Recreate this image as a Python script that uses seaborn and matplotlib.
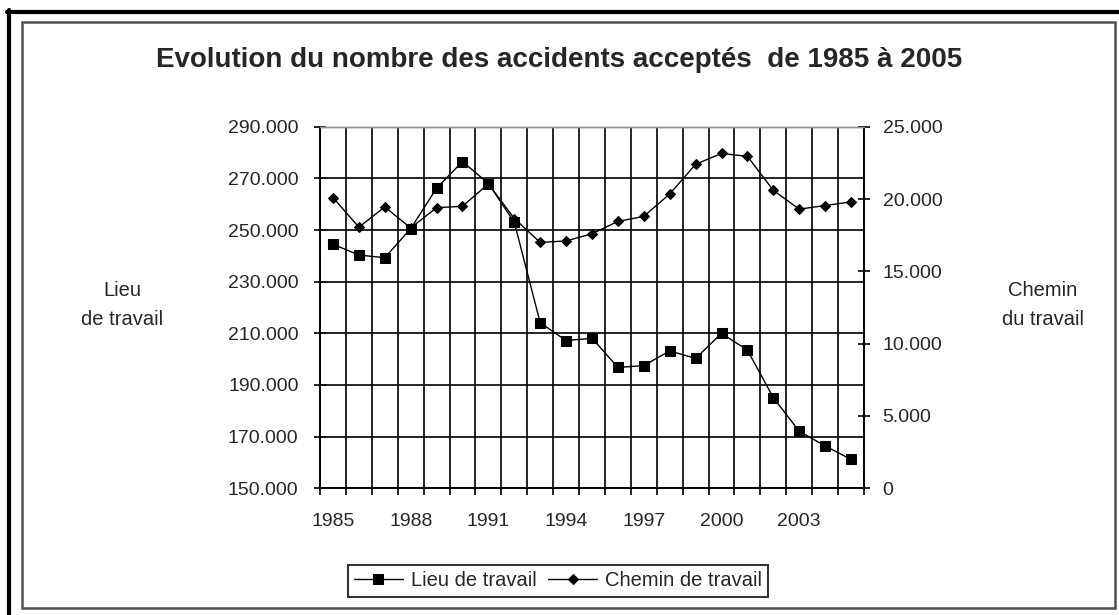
import pandas as pd
import seaborn as sns
import matplotlib.pyplot as plt
from matplotlib.lines import Line2D
from matplotlib.patches import Rectangle
from matplotlib.ticker import FixedLocator, FuncFormatter

# data
annees = list(range(1985, 2006))
lieu_travail = [244500, 240300, 239300, 250500, 266200, 276500, 268000, 253000, 214100, 207200,
                208100, 196800, 197500, 203200, 200300, 210000, 203500, 185100, 172100, 166400, 161200]
chemin_travail = [20100, 18050, 19450, 18000, 19400, 19500, 21050, 18650, 17000, 17100,
                  17600, 18450, 18800, 20350, 22400, 23150, 22950, 20600, 19300, 19550, 19800]
ticks_gauche = list(range(150000, 290001, 20000))
ticks_droite = list(range(0, 25001, 5000))
annees_label = list(range(1985, 2004, 3))

df = pd.DataFrame({'annee': annees, 'lieu': lieu_travail, 'chemin': chemin_travail})

sns.set_style('white')
plt.rcParams['font.family'] = ['Liberation Sans', 'DejaVu Sans']


def fmt_milliers(v, pos=None):
    v = int(round(v))
    return f"{v:,}".replace(',', '.')


fig = plt.figure(figsize=(11.19, 6.15), dpi=100)
ax = fig.add_axes([0.286, 0.206, 0.4861, 0.588])
ax2 = ax.twinx()

sns.lineplot(data=df, x='annee', y='lieu', ax=ax, color='black', linewidth=1,
             marker='s', markersize=6.5, markeredgecolor='black', markerfacecolor='black',
             label='Lieu de travail')
sns.lineplot(data=df, x='annee', y='chemin', ax=ax2, color='black', linewidth=1,
             marker='D', markersize=5.2, markeredgecolor='black', markerfacecolor='black',
             label='Chemin de travail')
for a in (ax, ax2):
    if a.get_legend() is not None:
        a.get_legend().remove()

ax.set_xlim(1984.5, 2005.5)
ax.set_ylim(150000, 290000)
ax2.set_ylim(0, 25000)
ax.set_xlabel('')
ax.set_ylabel('')
ax2.set_ylabel('')

# left axis
ax.yaxis.set_major_locator(FixedLocator(ticks_gauche))
ax.yaxis.set_major_formatter(FuncFormatter(fmt_milliers))
ax.tick_params(axis='y', which='major', direction='inout', length=9, width=1.2,
               color='black', labelsize=14, pad=11, left=True)
# right axis
ax2.yaxis.set_major_locator(FixedLocator(ticks_droite))
ax2.yaxis.set_major_formatter(FuncFormatter(fmt_milliers))
ax2.tick_params(axis='y', which='major', direction='inout', length=9, width=1.2,
                color='black', labelsize=14, pad=9, right=True)

# x axis: labels centred on years, ticks/grid between years
ax.xaxis.set_major_locator(FixedLocator(annees_label))
ax.xaxis.set_major_formatter(FuncFormatter(lambda v, p: str(int(v))))
ax.xaxis.set_minor_locator(FixedLocator([y - 0.5 for y in annees] + [annees[-1] + 0.5]))
ax.tick_params(axis='x', which='major', length=0, labelsize=14, pad=18)
ax.tick_params(axis='x', which='minor', direction='out', length=5, width=1.2,
               color='black', bottom=True)

ax.set_axisbelow(True)
ax.grid(False)
ax.xaxis.grid(True, which='minor', color='black', linewidth=1.2)
ax.yaxis.grid(True, which='major', color='black', linewidth=1.2)
ax2.grid(False)

for a in (ax, ax2):
    for s in a.spines.values():
        s.set_color('black')
        s.set_linewidth(1.2)
    a.spines['top'].set_color('#909090')
    a.spines['top'].set_linewidth(1)

# title and axis side labels
fig.text(0.4995, 1 - 60 / 615, 'Evolution du nombre des accidents acceptés  de 1985 à 2005',
         ha='center', va='center', fontsize=20, fontweight='bold')
fig.text(122 / 1119, 1 - 305 / 615, 'Lieu\nde travail', ha='center', va='center',
         fontsize=14.5, linespacing=1.7)
fig.text(1043 / 1119, 1 - 305 / 615, 'Chemin\ndu travail', ha='center', va='center',
         fontsize=14.5, linespacing=1.7)

# legend
h1, l1 = ax.get_legend_handles_labels()
h2, l2 = ax2.get_legend_handles_labels()
leg = fig.legend(h1 + h2, l1 + l2, loc='center', bbox_to_anchor=(558 / 1119, 1 - 581 / 615),
                 ncol=2, frameon=True, fancybox=False, fontsize=14.5, handlelength=2.4,
                 columnspacing=0.6, handletextpad=0.4, borderpad=0.3, borderaxespad=0)
leg.get_frame().set_edgecolor('black')
leg.get_frame().set_linewidth(1.5)

# frames around the chart
fig.add_artist(Line2D([7 / 1119, 1], [1 - 12 / 615, 1 - 12 / 615], color='black',
                      linewidth=3, transform=fig.transFigure))
fig.add_artist(Line2D([9 / 1119, 9 / 1119], [0, 1 - 10 / 615], color='black',
                      linewidth=3, transform=fig.transFigure))
fig.add_artist(Rectangle((21.5 / 1119, 1 - 607.5 / 615), (1114.5 - 21.5) / 1119,
                         (607.5 - 22) / 615, fill=False, edgecolor='#505050',
                         linewidth=1.8, transform=fig.transFigure))

fig.savefig('out.png', dpi=100, facecolor='white')
